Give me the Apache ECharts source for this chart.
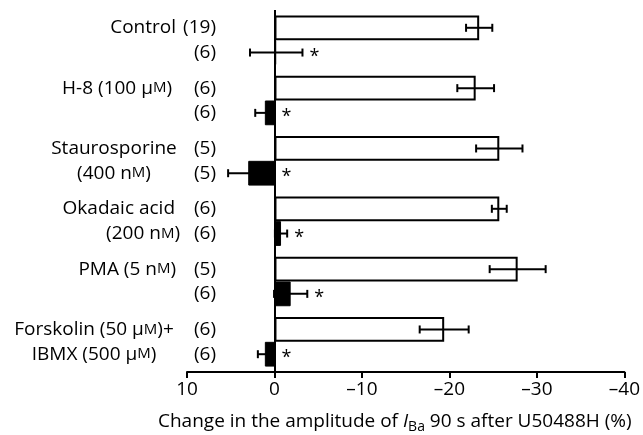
<!DOCTYPE html>
<html><head><meta charset="utf-8">
<script src="https://cdn.jsdelivr.net/npm/echarts@6/dist/echarts.min.js"></script>
<style>html,body{margin:0;padding:0;background:#fff}#c{width:643px;height:435px}</style>
</head><body><div id="c"></div>
<script>
// ---- data ----
const categories = ['Control', 'H-8', 'Staurosporine', 'Okadaic acid', 'PMA', 'Forskolin+IBMX'];
const controlValues = [-23.4, -23.0, -25.7, -25.7, -27.8, -19.4];
const controlErrors = [1.5, 2.1, 2.65, 0.85, 3.2, 2.8];
const drugValues = [-0.2, 1.1, 3.0, -0.75, -1.85, 1.1];
const drugErrors = [3.0, 1.1, 2.3, 0.7, 1.9, 0.8];
const controlN = ['(19)', '(6)', '(5)', '(6)', '(5)', '(6)'];
const drugN = ['(6)', '(6)', '(5)', '(6)', '(6)', '(6)'];
const drugSignificant = [true, true, true, true, true, true];
const nameLine1 = ['Control', 'H-8 (100 μ{sc|M})', 'Staurosporine', 'Okadaic acid', 'PMA (5 n{sc|M})', 'Forskolin (50 μ{sc|M})+'];
const nameLine2 = ['', '', '(400 n{sc|M})', '(200 n{sc|M})', '', 'IBMX (500 μ{sc|M})'];
const xMin = -40, xMax = 10, xStep = 10;
const axisTitle = 'Change in the amplitude of {i|I}{sub|Ba} 90 s after U50488H (%)';

// ---- layout (not data) ----
const FONT = 'Open Sans';
const FS = 19;
const nameLayout = [
  [{x: 176, a: 'right'}, null],
  [{x: 172, a: 'right'}, null],
  [{x: 114, a: 'center'}, {x: 114, a: 'center'}],
  [{x: 175, a: 'right'}, {x: 180, a: 'right'}],
  [{x: 176, a: 'right'}, null],
  [{x: 94, a: 'center'}, {x: 94, a: 'center'}]
];
const GAP = 0.18;

const chart = echarts.init(document.getElementById('c'), null, {renderer: 'canvas'});

function errRender(side, withStar) {
  return function (params, api) {
    const cat = api.value(0), v = api.value(1), e = api.value(2);
    const band = api.size([0, 1])[1];
    const off = side * band * (1 - GAP) / 4;
    const y = api.coord([v, cat])[1] + off;
    const x1 = api.coord([v - e, cat])[0];
    const x2 = api.coord([v + e, cat])[0];
    const x0 = api.coord([0, cat])[0];
    const st = {stroke: '#000', lineWidth: 2};
    const cap = 4;
    const children = [
      {type: 'line', shape: {x1: x1, y1: y, x2: x2, y2: y}, style: st},
      {type: 'line', shape: {x1: x1, y1: y - cap, x2: x1, y2: y + cap}, style: st},
      {type: 'line', shape: {x1: x2, y1: y - cap, x2: x2, y2: y + cap}, style: st}
    ];
    if (withStar && api.value(3)) {
      const xr = Math.max(x1, x2, x0) + 12;
      children.push({type: 'text', x: xr, y: y + 4, style: {text: '*', fill: '#000', font: '18px "' + FONT + '"', align: 'center', verticalAlign: 'middle'}});
    }
    return {type: 'group', children: children};
  };
}

chart.setOption({
  animation: false,
  backgroundColor: '#fff',
  grid: {left: 187, right: 16, top: 10, bottom: 63},
  xAxis: {
    type: 'value', min: xMin, max: xMax, interval: xStep, inverse: true,
    axisLine: {show: true, onZero: false, lineStyle: {color: '#000', width: 2}},
    axisTick: {show: true, length: 6, lineStyle: {color: '#000', width: 2}},
    splitLine: {show: false},
    axisLabel: {color: '#000', fontFamily: FONT, fontSize: FS, margin: 8,
      formatter: v => String(v).replace('-', '\u2013')}
  },
  yAxis: {
    type: 'category', data: categories, inverse: true,
    axisLine: {show: false}, axisTick: {show: false}, axisLabel: {show: false}
  },
  series: [
    {type: 'bar', data: controlValues, barGap: '0%', barCategoryGap: (GAP * 100) + '%',
     itemStyle: {color: '#fff', borderColor: '#000', borderWidth: 2}, z: 2,
     markLine: {silent: true, symbol: 'none', label: {show: false},
       lineStyle: {color: '#000', width: 2, type: 'solid'}, data: [{xAxis: 0}]}},
    {type: 'bar', data: drugValues, itemStyle: {color: '#000', borderColor: '#000', borderWidth: 1}, z: 2},
    {type: 'custom', renderItem: errRender(-1, false), encode: {x: 1, y: 0}, z: 5,
     data: controlValues.map((v, i) => [i, v, controlErrors[i]])},
    {type: 'custom', renderItem: errRender(1, true), encode: {x: 1, y: 0}, z: 5,
     data: drugValues.map((v, i) => [i, v, drugErrors[i], drugSignificant[i] ? 1 : 0])}
  ]
});

// left-hand texts
const p0 = chart.convertToPixel({yAxisIndex: 0}, 0);
const p1 = chart.convertToPixel({yAxisIndex: 0}, 1);
const band = p1 - p0;
const offs = band * (1 - GAP) / 4;
const rich = {sc: {fontFamily: FONT, fontSize: 15, fill: '#000'}};
const g = [];
categories.forEach((c, i) => {
  const yc = chart.convertToPixel({yAxisIndex: 0}, i);
  const ys = [yc - offs, yc + offs];
  [controlN[i], drugN[i]].forEach((t, k) => {
    g.push({type: 'text', x: 216, y: ys[k], style: {text: t, font: FS + 'px "' + FONT + '"', fill: '#000', align: 'right', verticalAlign: 'middle'}});
  });
  [nameLine1[i], nameLine2[i]].forEach((t, k) => {
    const L = nameLayout[i][k];
    if (!t || !L) return;
    g.push({type: 'text', x: L.x, y: ys[k], style: {text: t, rich: rich, font: FS + 'px "' + FONT + '"', fill: '#000', align: L.a, verticalAlign: 'middle'}});
  });
});
g.push({type: 'text', x: 158, y: 422, style: {
  text: axisTitle, font: FS + 'px "' + FONT + '"', fill: '#000', align: 'left', verticalAlign: 'middle',
  rich: {i: {fontFamily: FONT, fontSize: FS, fontStyle: 'italic'}, sub: {fontFamily: FONT, fontSize: 14, padding: [10, 0, 0, 0]}}
}});
chart.setOption({graphic: g});
</script></body></html>
